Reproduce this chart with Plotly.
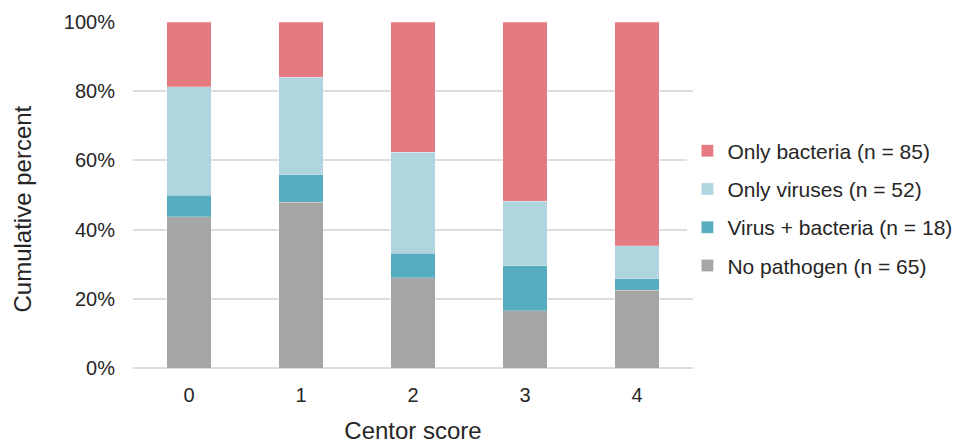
import plotly.graph_objects as go

categories = ["0", "1", "2", "3", "4"]
no_pathogen = [43.7, 47.9, 26.1, 16.6, 22.5]
virus_bacteria = [6.2, 8.0, 7.1, 12.9, 3.3]
only_viruses = [31.4, 28.1, 29.1, 18.7, 9.6]
only_bacteria = [18.7, 16.0, 37.7, 51.8, 64.6]

series = [
    ("No pathogen (n = 65)", no_pathogen, "#A6A6A6", 4),
    ("Virus + bacteria (n = 18)", virus_bacteria, "#58ACC0", 3),
    ("Only viruses (n = 52)", only_viruses, "#B0D5DE", 2),
    ("Only bacteria (n = 85)", only_bacteria, "#E57A80", 1),
]

fig = go.Figure()
for name, vals, color, rank in series:
    fig.add_trace(go.Bar(
        x=categories, y=vals, name=name, legendgroup=name, legendrank=rank,
        marker=dict(color=color, line=dict(color="rgba(255,255,255,0.4)", width=0.6)),
    ))

font_family = "Liberation Sans, Arial, sans-serif"
fig.update_layout(
    barmode="stack",
    bargap=0.6,
    width=969, height=444,
    margin=dict(l=133, r=272, t=22, b=76),
    plot_bgcolor="white", paper_bgcolor="white",
    font=dict(family=font_family, size=20, color="#262626"),
    legend=dict(
        traceorder="grouped", tracegroupgap=8,
        x=0.99, xanchor="left", y=0.461, yanchor="middle",
        font=dict(size=21, color="#262626"),
        itemwidth=30,
    ),
    xaxis=dict(
        title=dict(text="Centor score", font=dict(size=24), standoff=24),
        showgrid=False, showline=False, ticks="", tickfont=dict(size=20),
        ticklabelstandoff=13, automargin=False,
    ),
    yaxis=dict(
        range=[0, 100], tickvals=[0, 20, 40, 60, 80, 100],
        ticktext=["0%", "20%", "40%", "60%", "80%", "100%"],
        showgrid=True, gridcolor="#DDDDDD", gridwidth=1.5,
        zeroline=True, zerolinecolor="#DDDDDD", zerolinewidth=1.5,
        ticks="", ticklabelstandoff=17, tickfont=dict(size=20),
        automargin=False,
    ),
    annotations=[dict(
        text="Cumulative percent", textangle=-90, showarrow=False,
        xref="paper", yref="paper", x=-0.1973, y=0.4595,
        xanchor="center", yanchor="middle",
        font=dict(size=24, color="#262626"),
    )],
)

fig.write_html(
    "out.html",
    config={"displayModeBar": False},
    post_script="document.body.style.margin='0';document.body.style.overflow='hidden';",
)
